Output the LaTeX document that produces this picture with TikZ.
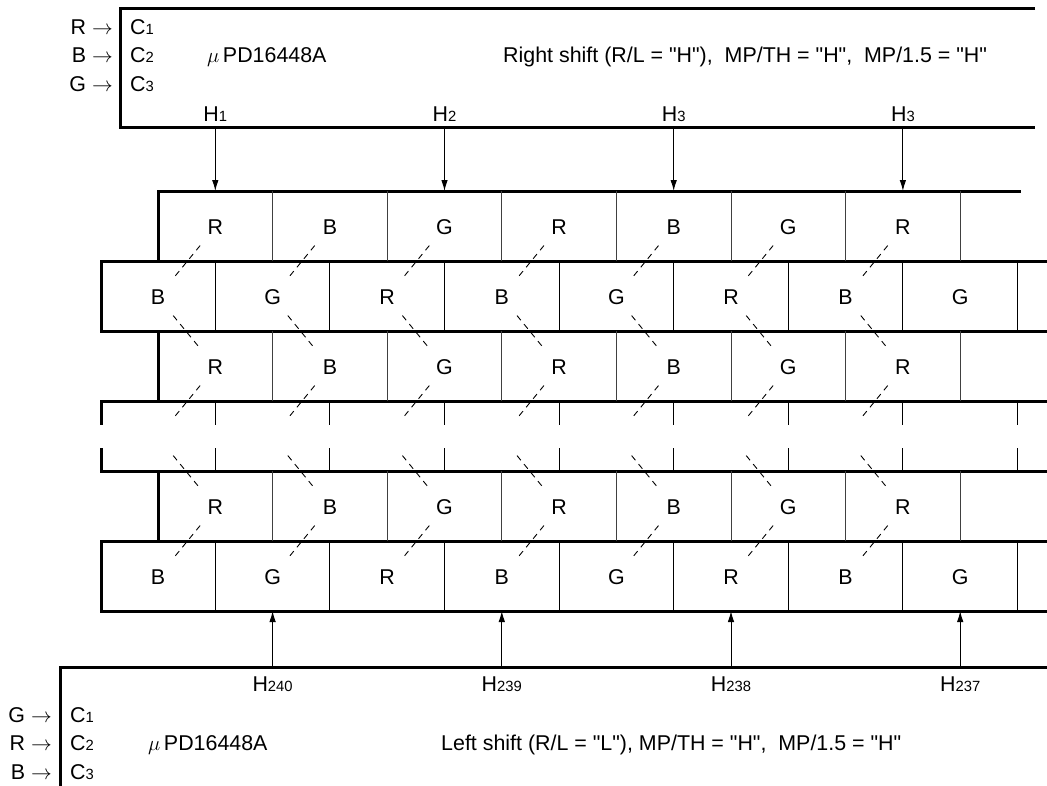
\documentclass[tikz,border=0pt]{standalone}
\usepackage{fontspec}
\setmainfont{Liberation Sans}[Ligatures=TeXOff]
\usetikzlibrary{arrows.meta}
\newcommand{\mysub}[1]{{\fontsize{14.8}{15}\selectfont #1}}
\begin{document}
\begin{tikzpicture}[x=1pt,y=-1pt,
  box/.style={line width=3pt},
  boxe/.style={line width=3pt,line cap=rect},
  divA/.style={line width=1pt,draw=black!75},
  divB/.style={line width=1pt},
  lbl/.style={inner sep=0pt,font=\fontsize{21.4}{23}\selectfont},
  diag/.style={line width=0.9pt,dash pattern=on 6pt off 5pt,shorten <=24pt,shorten >=24pt},
  arr/.style={line width=1pt,-{Latex[length=11pt,width=6.5pt]}}]
\useasboundingbox (0,0) rectangle (1047,785);
% ---------- top chip box ----------
\draw[box] (1035,8) -- (120,8) -- (120,127) -- (1035,127);
\node[lbl,anchor=base east] (tinR) at (113,34) {R $\rightarrow$};
\node[lbl,anchor=base east] (tinB) at (113,62.5) {B $\rightarrow$};
\node[lbl,anchor=base east] (tinG) at (113,91) {G $\rightarrow$};
\node[lbl,anchor=base west] (tc1) at (130,34) {C\mysub{1}};
\node[lbl,anchor=base west] (tc2) at (130,62.5) {C\mysub{2}};
\node[lbl,anchor=base west] (tc3) at (130,91) {C\mysub{3}};
\node[lbl,anchor=base west] (tchip) at (207,62.5) {$\mu$\,PD16448A};
\node[lbl,anchor=base west] (tmode) at (503,62.5) {Right shift (R/L = "H"),\ \ MP/TH = "H",\ \ MP/1.5 = "H"};
\node[lbl,anchor=base] (th1) at (215.3,121.5) {H\mysub{1}};
\node[lbl,anchor=base] (th2) at (444.5,121.5) {H\mysub{2}};
\node[lbl,anchor=base] (th3) at (673.7,121.5) {H\mysub{3}};
\node[lbl,anchor=base] (th4) at (902.9,121.5) {H\mysub{3}};
\foreach \i/\x in {1/215.3,2/444.5,3/673.7,4/902.9}{
  \coordinate (ts\i) at (\x,127);
  \coordinate (te\i) at (\x,191);
  \draw[arr] (ts\i) -- (te\i);
}
% ---------- cell rows ----------
\draw[boxe] (158,261) -- (158,191) -- (1019,191);
\draw[boxe] (158,331) -- (158,401);
\draw[boxe] (158,471) -- (158,541);
\draw[box] (1047,261) -- (101,261) -- (101,331) -- (1047,331);
\draw[box] (1047,401) -- (101,401) -- (101,425);
\draw[box] (101,448) -- (101,471) -- (1047,471);
\draw[box] (1047,541) -- (101,541) -- (101,611) -- (1047,611);
\foreach \j in {1,...,7}{
  \draw[divA] ({158+114.6*\j},191) -- ({158+114.6*\j},261);
  \draw[divA] ({158+114.6*\j},331) -- ({158+114.6*\j},401);
  \draw[divA] ({158+114.6*\j},471) -- ({158+114.6*\j},541);
}
\foreach \j in {0,...,7}{
  \draw[divB] ({215.3+114.6*\j},261) -- ({215.3+114.6*\j},331);
  \draw[divB] ({215.3+114.6*\j},401) -- ({215.3+114.6*\j},425);
  \draw[divB] ({215.3+114.6*\j},448) -- ({215.3+114.6*\j},471);
  \draw[divB] ({215.3+114.6*\j},541) -- ({215.3+114.6*\j},611);
}
\foreach \j/\t in {0/R,1/B,2/G,3/R,4/B,5/G,6/R}{
  \node[lbl] (r1-\j) at ({215.3+114.6*\j},227) {\t};
  \node[lbl] (r3-\j) at ({215.3+114.6*\j},367) {\t};
  \node[lbl] (r5-\j) at ({215.3+114.6*\j},507) {\t};
}
\foreach \j/\t in {0/B,1/G,2/R,3/B,4/G,5/R,6/B,7/G}{
  \node[lbl] (r2-\j) at ({158+114.6*\j},297) {\t};
  \coordinate (r4-\j) at ({158+114.6*\j},437);
  \node[lbl] (r6-\j) at ({158+114.6*\j},577) {\t};
}
\foreach \j in {0,...,6}{
  \draw[diag] (r1-\j.center) -- (r2-\j.center);
  \draw[diag] (r2-\j.center) -- (r3-\j.center);
  \draw[diag] (r3-\j.center) -- (r4-\j.center);
  \draw[diag] (r4-\j.center) -- (r5-\j.center);
  \draw[diag] (r5-\j.center) -- (r6-\j.center);
}
% ---------- bottom chip box ----------
\draw[box] (1047,667) -- (60,667) -- (60,790);
\node[lbl,anchor=base] (bh1) at (272.6,691.7) {H\mysub{240}};
\node[lbl,anchor=base] (bh2) at (501.8,691.7) {H\mysub{239}};
\node[lbl,anchor=base] (bh3) at (731.0,691.7) {H\mysub{238}};
\node[lbl,anchor=base] (bh4) at (960.2,691.7) {H\mysub{237}};
\foreach \i/\x in {1/272.6,2/501.8,3/731.0,4/960.2}{
  \coordinate (bs\i) at (\x,667);
  \coordinate (be\i) at (\x,611);
  \draw[arr] (bs\i) -- (be\i);
}
\node[lbl,anchor=base east] (binG) at (52,722.7) {G $\rightarrow$};
\node[lbl,anchor=base east] (binR) at (52,750.7) {R $\rightarrow$};
\node[lbl,anchor=base east] (binB) at (52,779) {B $\rightarrow$};
\node[lbl,anchor=base west] (bc1) at (70,722.7) {C\mysub{1}};
\node[lbl,anchor=base west] (bc2) at (70,750.7) {C\mysub{2}};
\node[lbl,anchor=base west] (bc3) at (70,779) {C\mysub{3}};
\node[lbl,anchor=base west] (bchip) at (148,750.7) {$\mu$\,PD16448A};
\node[lbl,anchor=base west] (bmode) at (441,750.7) {Left shift (R/L = "L"), MP/TH = "H",\ \ MP/1.5 = "H"};
\end{tikzpicture}
\end{document}
